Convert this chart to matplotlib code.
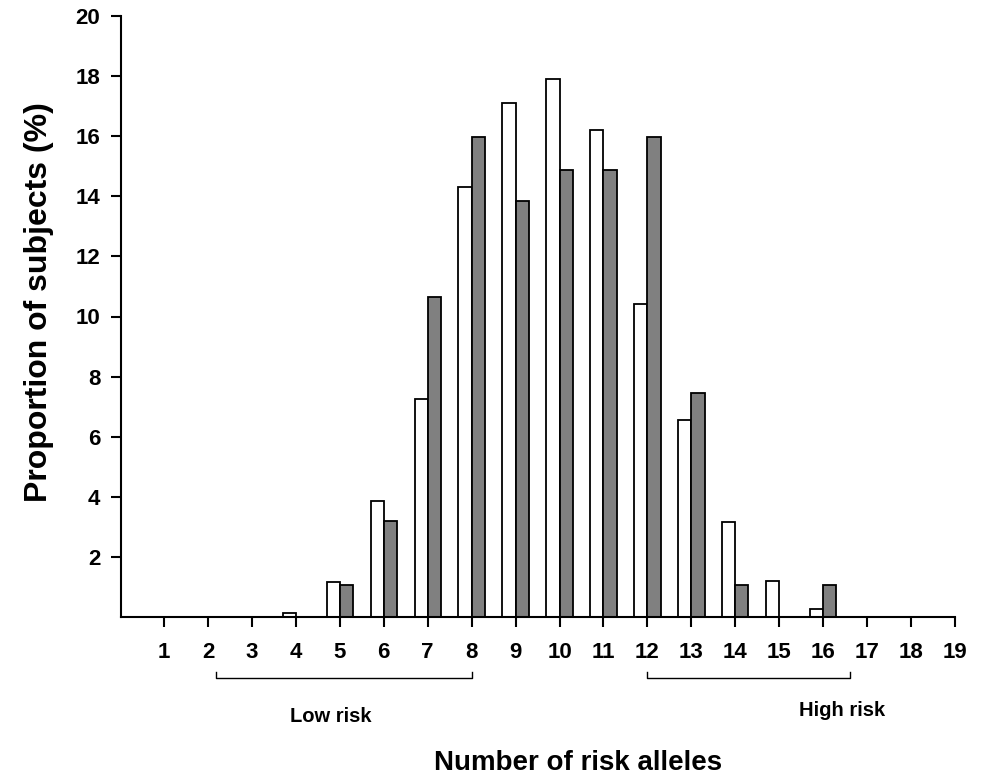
import numpy as np
import matplotlib
matplotlib.use("Agg")
from matplotlib import pyplot as plt
from matplotlib import transforms

plt.rcParams['font.family'] = ['Liberation Sans', 'DejaVu Sans']
plt.rcParams['font.weight'] = 'bold'

# number of risk alleles
alleles = [1, 2, 3, 4, 5, 6, 7, 8, 9, 10, 11, 12, 13, 14, 15, 16, 17, 18, 19]
# proportion of subjects (%) - white bars
white_vals = [0, 0, 0, 0.12, 1.17, 3.85, 7.25, 14.3, 17.1, 17.9, 16.2, 10.4,
              6.55, 3.17, 1.2, 0.28, 0, 0, 0]
# proportion of subjects (%) - grey bars
grey_vals = [0, 0, 0, 0, 1.06, 3.19, 10.64, 15.96, 13.83, 14.89, 14.89, 15.96,
             7.45, 1.06, 0, 1.06, 0, 0, 0]

y_ticks = [2, 4, 6, 8, 10, 12, 14, 16, 18, 20]

# risk groups (bracket start, bracket end)
low_risk = (2.18, 8.0)
high_risk = (12.0, 16.6)

fig = plt.figure(figsize=(9.88, 7.82), dpi=100)
ax = fig.add_axes([121/988, 1 - 617/782, (955 - 121)/988, (617 - 16)/782])

x = np.array(alleles)
w = 0.3
ax.bar(x - w/2, white_vals, width=w, color='white', edgecolor='black', linewidth=1.3)
ax.bar(x + w/2, grey_vals, width=w, color='#808080', edgecolor='black', linewidth=1.3)

ax.set_xlim(0.02, 19)
ax.set_ylim(0, 20)
ax.set_xticks(alleles)
ax.set_yticks(y_ticks)
ax.tick_params(axis='x', direction='out', length=7, width=1.5, labelsize=16, pad=11)
ax.tick_params(axis='y', direction='out', length=7, width=1.5, labelsize=16, pad=8)
for lab in ax.get_xticklabels() + ax.get_yticklabels():
    lab.set_fontweight('bold')

for s in ['top', 'right']:
    ax.spines[s].set_visible(False)
for s in ['left', 'bottom']:
    ax.spines[s].set_linewidth(1.5)

# brackets under the axis
trans = transforms.blended_transform_factory(ax.transData, ax.transAxes)
for (a, b) in [low_risk, high_risk]:
    ax.plot([a, a, b, b], [-0.0915, -0.1015, -0.1015, -0.0915], color='black',
            linewidth=1, transform=trans, clip_on=False)

ax.text(4.8, -0.166, 'Low risk', transform=trans, ha='center', va='center',
        fontsize=14.5, fontweight='bold')
ax.text(16.43, -0.155, 'High risk', transform=trans, ha='center', va='center',
        fontsize=14.5, fontweight='bold')

fig.text(0.585, 0.024, 'Number of risk alleles', ha='center', va='center',
         fontsize=20, fontweight='bold')
fig.text(0.0395, 0.614, 'Proportion of subjects (%)', ha='center', va='center',
         rotation=90, fontsize=23, fontweight='bold')

fig.savefig('out.png', dpi=100)
